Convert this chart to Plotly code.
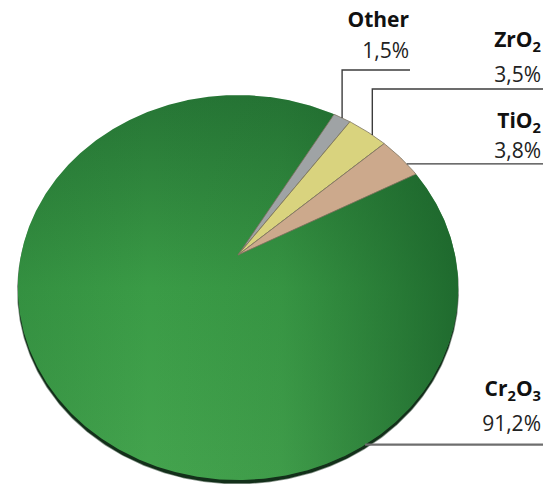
import numpy as np
import plotly.graph_objects as go

# ---- data ----
names = ["Other", "ZrO<sub>2</sub>", "TiO<sub>2</sub>", "Cr<sub>2</sub>O<sub>3</sub>"]
values = [1.5, 3.5, 3.8, 91.2]
value_labels = ["1,5%", "3,5%", "3,8%", "91,2%"]
slice_colors = ["#9fa3a5", "#d9d37e", "#cca98c", "#2e8a3d"]

# ---- layout / geometry constants ----
W, H = 551, 486
START = 30.5            # degrees clockwise from 12 o'clock where the first slice starts
APEX = (238.0, 255.0)   # projected pie centre
SX, TY, K = 217.0, 187.0, 0.169   # perspective projection of the tilted disc
FONT = "Open Sans"
LABEL_RIGHT = [409, 541, 541, 541]
NAME_Y = [22, 42, 123, 391]
VALUE_Y = [53, 77, 153, 426]
LINE_Y = [70, 89, None, None]
LINE_END = [410, 543, 543, 543]
ANCHOR_FRAC = [0.5, 0.64, 0.69, None]
BIG_ANCHOR_ANGLE = 150.0


def project(phi_deg):
    phi = np.radians(phi_deg)
    u = np.sin(phi)
    v = -np.cos(phi)
    d = 1 - K * v
    return APEX[0] + SX * u / d, APEX[1] + TY * v / d


def wedge(a0, a1):
    angs = np.linspace(a0, a1, max(int(abs(a1 - a0) * 2), 8))
    xs, ys = project(angs)
    return np.r_[APEX[0], xs, APEX[0]], np.r_[APEX[1], ys, APEX[1]]


total = sum(values)
bounds = np.r_[0, np.cumsum(values)] / total * 360 + START

fig = go.Figure()

# shadow rim (disc thickness)
ex, ey = project(np.linspace(0, 360, 721))
fig.add_trace(go.Scatter(x=ex, y=ey + 3.5, fill="toself", mode="lines",
                         line=dict(width=1.5, color="rgba(20,45,25,0.5)"), fillcolor="#13301a",
                         hoverinfo="skip", showlegend=False))

# big slice with gradient
gx, gy = wedge(bounds[3], bounds[4])
fig.add_trace(go.Scatter(
    x=gx, y=gy, fill="toself", mode="lines", line=dict(width=0, color="#2e8a3d"),
    fillgradient=dict(type="vertical",
                      colorscale=[[0, "#44a44e"], [0.5, "#3a9b46"], [1, "#267535"]]),
    hoverinfo="skip", showlegend=False))
fig.add_trace(go.Scatter(
    x=gx, y=gy, fill="toself", mode="lines", line=dict(width=0, color="rgba(0,0,0,0)"),
    fillgradient=dict(type="horizontal",
                      colorscale=[[0, "rgba(25,95,40,0.18)"], [0.3, "rgba(25,95,40,0)"],
                                  [0.6, "rgba(25,95,40,0.12)"], [1, "rgba(22,90,38,0.75)"]]),
    hoverinfo="skip", showlegend=False))

# small slices
for i in range(3):
    sx_, sy_ = wedge(bounds[i], bounds[i + 1])
    fig.add_trace(go.Scatter(x=sx_, y=sy_, fill="toself", mode="lines",
                             line=dict(width=0.8, color="#7d7560"),
                             fillcolor=slice_colors[i], hoverinfo="skip", showlegend=False))

# leader lines
for i in range(4):
    if ANCHOR_FRAC[i] is not None:
        a = bounds[i] + ANCHOR_FRAC[i] * (bounds[i + 1] - bounds[i])
    else:
        a = BIG_ANCHOR_ANGLE
    ax_, ay_ = project(a)
    ly = LINE_Y[i] if LINE_Y[i] is not None else float(ay_)
    col = "#6e6e6e" if i == 3 else "#3c3c3c"
    wid = 2.2 if i == 3 else 1.4
    fig.add_trace(go.Scatter(x=[float(ax_), float(ax_), LINE_END[i]], y=[float(ay_), ly, ly],
                             mode="lines", line=dict(color=col, width=wid),
                             hoverinfo="skip", showlegend=False))

# labels
fig.add_trace(go.Scatter(
    x=LABEL_RIGHT, y=NAME_Y, mode="text", text=["<b>%s</b>" % n for n in names],
    textposition="middle left", textfont=dict(family=FONT, size=21, color="#111111"),
    hoverinfo="skip", showlegend=False))
fig.add_trace(go.Scatter(
    x=LABEL_RIGHT, y=VALUE_Y, mode="text", text=value_labels,
    textposition="middle left", textfont=dict(family=FONT, size=21, color="#222222"),
    hoverinfo="skip", showlegend=False))

fig.update_layout(
    width=W, height=H, margin=dict(l=0, r=0, t=0, b=0),
    paper_bgcolor="white", plot_bgcolor="white",
    xaxis=dict(range=[0, W], visible=False, fixedrange=True),
    yaxis=dict(range=[H, 0], visible=False, fixedrange=True),
    showlegend=False,
)
fig.write_html("out.html")
